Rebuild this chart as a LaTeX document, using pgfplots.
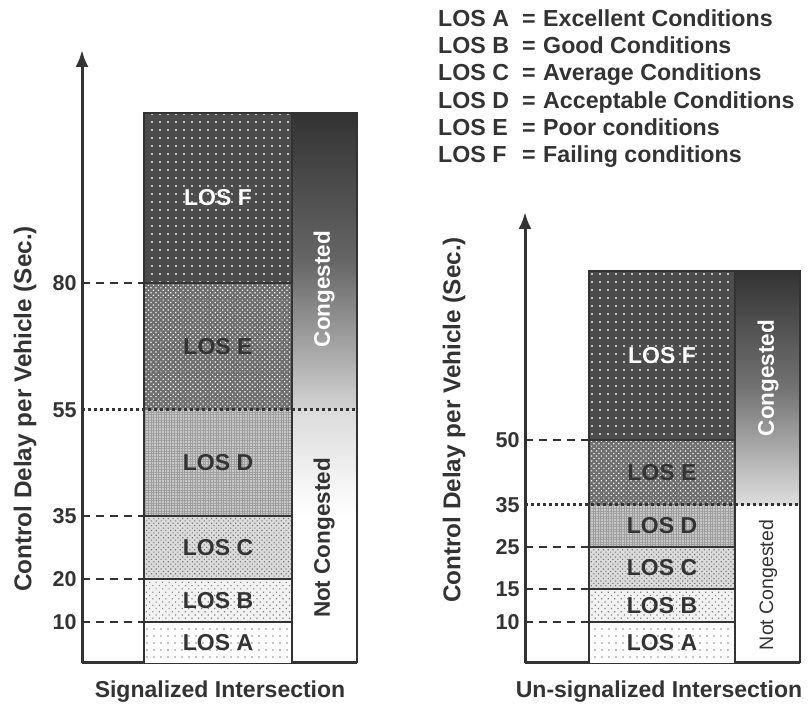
\documentclass[border=0pt]{standalone}
\usepackage{fontspec}
\setmainfont{Liberation Sans}
\usepackage{pgfplots}
\pgfplotsset{compat=1.18}
\usetikzlibrary{patterns.meta,arrows.meta}

\newcommand\fs[1]{\fontsize{#1}{#1}\selectfont\bfseries}
\definecolor{ink}{gray}{0.2}

\pgfplotsset{
  losaxis/.style={
    x=1pt, y=1pt, xmin=0, xmax=275, ymin=0,
    scale only axis, clip=false, enlargelimits=false,
    axis lines=left,
    axis line style={line width=3pt, draw=ink},
    x axis line style={-},
    y axis line style={-{Latex[length=17pt,width=13pt]}},
    xtick=\empty,
    major tick length=0pt,
    yticklabel style={font=\fs{21.5}, text=ink, xshift=-2pt},
    /pgf/number format/assume math mode=true,
    anchor=south west,
    no markers,
  },
  losA/.style={draw=none, fill=white, postaction={pattern={Dots[distance=7pt,radius=0.9pt]}, pattern color=black!45}},
  losB/.style={draw=none, fill=black!5, postaction={pattern={Dots[distance=4.6pt,radius=0.85pt,angle=45]}, pattern color=black!50}},
  losC/.style={draw=none, fill=black!14, postaction={pattern={Dots[distance=3.4pt,radius=0.8pt,angle=45]}, pattern color=black!55}},
  losD/.style={draw=none, fill=black!21, postaction={pattern={Hatch[distance=2.6pt,angle=0,line width=0.6pt]}, pattern color=black!38}},
  losE/.style={draw=none, fill=black!57, postaction={pattern={Dots[distance=3.5pt,radius=0.85pt,angle=45]}, pattern color=white}},
  losF/.style={draw=none, fill=black!70, postaction={pattern={Dots[distance=8pt,radius=1.1pt]}, pattern color=white!92!black}},
  bnd/.style={line width=1.8pt, draw=ink},
  outl/.style={line width=2pt, draw=ink},
  dashln/.style={line width=1.8pt, draw=ink, dash pattern=on 8pt off 6pt},
  dotln/.style={line width=3pt, draw=ink, dash pattern=on 3pt off 3pt},
}

\begin{document}
\begin{tikzpicture}
\useasboundingbox (0,0) rectangle (809pt,706pt);

% ---------------- Signalized Intersection ----------------
\begin{axis}[losaxis, at={(82pt,43pt)}, ymax=613,
  ytick={41,84,147,253,380}, yticklabels={10,20,35,55,80}]
  \addplot[losA] coordinates {(62,0) (210,0) (210,41) (62,41)} -- cycle;
  \addplot[losB] coordinates {(62,41) (210,41) (210,84) (62,84)} -- cycle;
  \addplot[losC] coordinates {(62,84) (210,84) (210,147) (62,147)} -- cycle;
  \addplot[losD] coordinates {(62,147) (210,147) (210,253) (62,253)} -- cycle;
  \addplot[losE] coordinates {(62,253) (210,253) (210,380) (62,380)} -- cycle;
  \addplot[losF] coordinates {(62,380) (210,380) (210,550) (62,550)} -- cycle;
  % congestion column
  \addplot[draw=none, top color=black!80, bottom color=black!17, middle color=black!60]
    coordinates {(210,253) (275,253) (275,550) (210,550)} -- cycle;
  \addplot[draw=none, top color=black!14, bottom color=white]
    coordinates {(210,147) (275,147) (275,253) (210,253)} -- cycle;
  % boundaries
  \addplot[bnd] coordinates {(62,41) (210,41)};
  \addplot[bnd] coordinates {(62,84) (210,84)};
  \addplot[bnd] coordinates {(62,147) (210,147)};
  \addplot[bnd] coordinates {(62,380) (210,380)};
  \addplot[outl] coordinates {(62,0) (62,550) (275,550) (275,0)};
  \addplot[outl] coordinates {(210,0) (210,550)};
  % guides
  \addplot[dashln] coordinates {(0,41) (62,41)};
  \addplot[dashln] coordinates {(0,84) (62,84)};
  \addplot[dashln] coordinates {(0,147) (62,147)};
  \addplot[dashln] coordinates {(0,380) (62,380)};
  \addplot[dotln] coordinates {(0,253) (275,253)};
  % texts
  \node[font=\fs{23}, text=white] at (axis cs:136,465) {LOS F};
  \node[font=\fs{23}, text=ink] at (axis cs:136,316.5) {LOS E};
  \node[font=\fs{23}, text=ink] at (axis cs:136,200) {LOS D};
  \node[font=\fs{23}, text=ink] at (axis cs:136,115.5) {LOS C};
  \node[font=\fs{23}, text=ink] at (axis cs:136,62.5) {LOS B};
  \node[font=\fs{23}, text=ink] at (axis cs:136,20.5) {LOS A};
  \node[font=\fs{22.5}, text=white, rotate=90] at (axis cs:242,374) {Congested};
  \node[font=\fs{22.5}, text=ink, rotate=90] at (axis cs:242,125) {Not Congested};
  \node[font=\fs{24.3}, text=ink, rotate=90] at (axis cs:-57,254) {Control Delay per Vehicle (Sec.)};
  \node[font=\fs{23}, text=ink] at (axis cs:138,-29) {Signalized Intersection};
\end{axis}

% ---------------- Un-signalized Intersection ----------------
\begin{axis}[losaxis, at={(525pt,43pt)}, ymax=451,
  ytick={41,74,116,158,223}, yticklabels={10,15,25,35,50}]
  \addplot[losA] coordinates {(64,0) (210,0) (210,41) (64,41)} -- cycle;
  \addplot[losB] coordinates {(64,41) (210,41) (210,74) (64,74)} -- cycle;
  \addplot[losC] coordinates {(64,74) (210,74) (210,116) (64,116)} -- cycle;
  \addplot[losD] coordinates {(64,116) (210,116) (210,158) (64,158)} -- cycle;
  \addplot[losE] coordinates {(64,158) (210,158) (210,223) (64,223)} -- cycle;
  \addplot[losF] coordinates {(64,223) (210,223) (210,392) (64,392)} -- cycle;
  \addplot[draw=none, top color=black!80, bottom color=black!13, middle color=black!55]
    coordinates {(210,158) (275,158) (275,392) (210,392)} -- cycle;
  \addplot[bnd] coordinates {(64,41) (210,41)};
  \addplot[bnd] coordinates {(64,74) (210,74)};
  \addplot[bnd] coordinates {(64,116) (210,116)};
  \addplot[bnd] coordinates {(64,223) (210,223)};
  \addplot[outl] coordinates {(64,0) (64,392) (275,392) (275,0)};
  \addplot[outl] coordinates {(210,0) (210,392)};
  \addplot[dashln] coordinates {(0,41) (64,41)};
  \addplot[dashln] coordinates {(0,74) (64,74)};
  \addplot[dashln] coordinates {(0,116) (64,116)};
  \addplot[dashln] coordinates {(0,223) (64,223)};
  \addplot[dotln] coordinates {(0,158) (275,158)};
  \node[font=\fs{23}, text=white] at (axis cs:137,307.5) {LOS F};
  \node[font=\fs{23}, text=ink] at (axis cs:137,190.5) {LOS E};
  \node[font=\fs{23}, text=ink] at (axis cs:137,137) {LOS D};
  \node[font=\fs{23}, text=ink] at (axis cs:137,95) {LOS C};
  \node[font=\fs{23}, text=ink] at (axis cs:137,57.5) {LOS B};
  \node[font=\fs{23}, text=ink] at (axis cs:137,20.5) {LOS A};
  \node[font=\fs{22.5}, text=white, rotate=90] at (axis cs:243,285) {Congested};
  \node[font=\fontsize{19.5}{19.5}\selectfont, text=ink, rotate=90] at (axis cs:243,78) {Not Congested};
  \node[font=\fs{24.3}, text=ink, rotate=90] at (axis cs:-71,243) {Control Delay per Vehicle (Sec.)};
  \node[font=\fs{23}, text=ink] at (axis cs:134,-29) {Un-signalized Intersection};
\end{axis}

% ---------------- definitions ----------------
\node[anchor=north west, inner sep=0pt, font=\fontsize{23.2}{27.3}\selectfont\bfseries, text=ink] at (438pt,699pt) {%
  \renewcommand\arraystretch{1}%
  \begin{tabular}{@{}p{84pt}@{}p{21pt}@{}l@{}}
    LOS A & = & Excellent Conditions\\
    LOS B & = & Good Conditions\\
    LOS C & = & Average Conditions\\
    LOS D & = & Acceptable Conditions\\
    LOS E & = & Poor conditions\\
    LOS F & = & Failing conditions
  \end{tabular}};
\end{tikzpicture}
\end{document}
